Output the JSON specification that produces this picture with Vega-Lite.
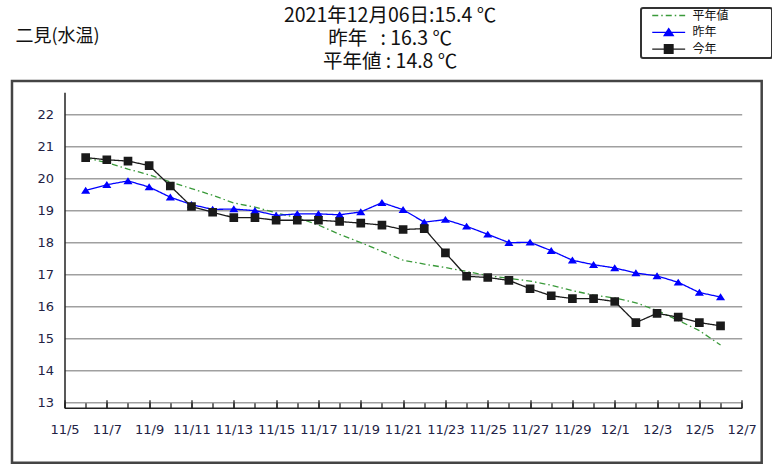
{
  "$schema": "https://vega.github.io/schema/vega-lite/v6.json",
  "width": 677.2,
  "height": 315.4,
  "autosize": {"type": "none"},
  "padding": {"left": 64.5, "top": 92.3, "right": 30.3, "bottom": 61.3},
  "background": "white",
  "config": {
    "view": {"stroke": null},
    "font": "DejaVu Sans",
    "axisY": {
      "values": [13, 14, 15, 16, 17, 18, 19, 20, 21, 22],
      "grid": true, "gridColor": "#a0a0a0", "gridWidth": 1.5,
      "ticks": false,
      "domain": true, "domainColor": "#222222", "domainWidth": 1.5,
      "labelFont": "DejaVu Sans", "labelFontSize": 13, "labelColor": "#222244", "labelPadding": 11,
      "titleAngle": 0, "titleX": -49.5, "titleY": -56,
      "titleAlign": "left", "titleBaseline": "middle",
      "titleFont": "Noto Sans CJK JP", "titleFontSize": 18, "titleFontWeight": "normal", "titleColor": "#111111"
    },
    "legend": {
      "orient": "none",
      "legendX": 576.5,
      "legendY": -84.3,
      "strokeColor": "#333333",
      "strokeWidth": 2,
      "cornerRadius": 2,
      "fillColor": "white",
      "padding": 1.5,
      "symbolSize": 75,
      "symbolOffset": 20.2,
      "labelOffset": 17.7,
      "rowPadding": 3.8,
      "labelFont": "Noto Sans CJK JP",
      "labelFontSize": 12,
      "labelColor": "#111111"
    }
  },
  "title": {
    "text": ["2021年12月06日:15.4 ℃", "昨年\u00a0\u00a0\u00a0: 16.3 ℃", "平年値 : 14.8 ℃"],
    "anchor": "middle",
    "frame": "group",
    "font": "Noto Sans CJK JP",
    "fontSize": 19.5,
    "fontWeight": "normal",
    "color": "#111111",
    "lineHeight": 23,
    "dx": -13,
    "dy": 69.5
  },
  "data": {
    "values": [
      {"date": "2021/11/06", "平年値": 20.65, "昨年": 19.63, "今年": 20.66},
      {"date": "2021/11/07", "平年値": 20.5, "昨年": 19.81, "今年": 20.59},
      {"date": "2021/11/08", "平年値": 20.3, "昨年": 19.93, "今年": 20.55},
      {"date": "2021/11/09", "平年値": 20.12, "昨年": 19.74, "今年": 20.41},
      {"date": "2021/11/10", "平年値": 19.9, "昨年": 19.42, "今年": 19.77},
      {"date": "2021/11/11", "平年値": 19.69, "昨年": 19.19, "今年": 19.13},
      {"date": "2021/11/12", "平年値": 19.48, "昨年": 19.04, "今年": 18.95},
      {"date": "2021/11/13", "平年値": 19.24, "昨年": 19.05, "今年": 18.78},
      {"date": "2021/11/14", "平年値": 19.11, "昨年": 19.0, "今年": 18.78},
      {"date": "2021/11/15", "平年値": 18.93, "昨年": 18.85, "今年": 18.7},
      {"date": "2021/11/16", "平年値": 18.78, "昨年": 18.9, "今年": 18.7},
      {"date": "2021/11/17", "平年値": 18.55, "昨年": 18.9, "今年": 18.7},
      {"date": "2021/11/18", "平年値": 18.26, "昨年": 18.87, "今年": 18.66},
      {"date": "2021/11/19", "平年値": 18.0, "昨年": 18.96, "今年": 18.61},
      {"date": "2021/11/20", "平年値": 17.73, "昨年": 19.25, "今年": 18.55},
      {"date": "2021/11/21", "平年値": 17.45, "昨年": 19.03, "今年": 18.41},
      {"date": "2021/11/22", "平年値": 17.33, "昨年": 18.64, "今年": 18.44},
      {"date": "2021/11/23", "平年値": 17.22, "昨年": 18.72, "今年": 17.68},
      {"date": "2021/11/24", "平年値": 17.1, "昨年": 18.51, "今年": 16.95},
      {"date": "2021/11/25", "平年値": 16.97, "昨年": 18.26, "今年": 16.91},
      {"date": "2021/11/26", "平年値": 16.88, "昨年": 18.0, "今年": 16.82},
      {"date": "2021/11/27", "平年値": 16.8, "昨年": 18.01, "今年": 16.56},
      {"date": "2021/11/28", "平年値": 16.67, "昨年": 17.75, "今年": 16.34},
      {"date": "2021/11/29", "平年値": 16.5, "昨年": 17.45, "今年": 16.25},
      {"date": "2021/11/30", "平年値": 16.36, "昨年": 17.31, "今年": 16.25},
      {"date": "2021/12/01", "平年値": 16.27, "昨年": 17.21, "今年": 16.16},
      {"date": "2021/12/02", "平年値": 16.12, "昨年": 17.05, "今年": 15.5},
      {"date": "2021/12/03", "平年値": 15.88, "昨年": 16.96, "今年": 15.79},
      {"date": "2021/12/04", "平年値": 15.57, "昨年": 16.76, "今年": 15.67},
      {"date": "2021/12/05", "平年値": 15.25, "昨年": 16.44, "今年": 15.5},
      {"date": "2021/12/06", "平年値": 14.8, "昨年": 16.3, "今年": 15.4}
    ]
  },
  "layer": [
    {
      "data": {"values": [{}]},
      "mark": {"type": "rect", "filled": false, "stroke": "#444444", "strokeWidth": 2.5, "clip": false},
      "encoding": {
        "x": {"datum": {"year": 2021, "month": 11, "date": 2, "hours": 12, "minutes": 27}, "type": "temporal", "axis": null},
        "x2": {"datum": {"year": 2021, "month": 12, "date": 7, "hours": 22, "minutes": 41}},
        "y": {"datum": 23.05, "type": "quantitative", "axis": {"title": "二見(水温)"}},
        "y2": {"datum": 11.12}
      }
    },
    {
      "transform": [{"fold": ["平年値", "昨年", "今年"], "as": ["series", "value"]}],
      "mark": {"type": "line", "strokeWidth": 1.3},
      "encoding": {
        "x": {
          "field": "date", "type": "temporal",
          "scale": {"domain": [{"year": 2021, "month": 11, "date": 5}, {"year": 2021, "month": 12, "date": 7}], "nice": false},
          "axis": {
            "orient": "bottom", "title": null, "grid": false,
            "tickCount": {"interval": "day", "step": 2},
            "format": "%-m/%-d",
            "tickSize": -8, "tickColor": "#222222", "tickWidth": 1.3,
            "domainColor": "#222222", "domainWidth": 1.5,
            "labelFont": "DejaVu Sans", "labelFontSize": 13, "labelColor": "#222244",
            "labelPadding": 24, "labelFlush": false, "labelOverlap": false
          }
        },
        "y": {
          "field": "value", "type": "quantitative",
          "scale": {"domain": [12.84, 22.7], "nice": false, "zero": false},
          "axis": {"title": "二見(水温)"}
        },
        "color": {
          "field": "series", "type": "nominal",
          "scale": {"domain": ["平年値", "昨年", "今年"], "range": ["#3a9a3a", "#0000ff", "#1a1a1a"]},
          "legend": {
            "title": null,
            "encode": {
              "symbols": {
                "update": {
                  "stroke": {"scale": "color", "field": "value"},
                  "fill": {"scale": "color", "field": "value"},
                  "strokeWidth": {"value": 1.3},
                  "opacity": {"value": 1},
                  "shape": {"scale": "shape", "field": "value"},
                  "strokeDash": {"signal": "datum.value === '平年値' ? [4, 6] : [1, 0]"}
                }
              }
            }
          }
        },
        "strokeDash": {
          "field": "series", "type": "nominal",
          "scale": {"domain": ["平年値", "昨年", "今年"], "range": [[6, 3, 1.5, 3], [1, 0], [1, 0]]},
          "legend": null
        }
      }
    },
    {
      "transform": [
        {"fold": ["平年値", "昨年", "今年"], "as": ["series", "value"]},
        {"filter": "datum.series !== '平年値'"}
      ],
      "mark": {"type": "point", "filled": true, "size": 75, "opacity": 1, "strokeWidth": 0},
      "encoding": {
        "x": {
          "field": "date", "type": "temporal",
          "scale": {"domain": [{"year": 2021, "month": 11, "date": 5}, {"year": 2021, "month": 12, "date": 7}], "nice": false},
          "axis": {
            "orient": "bottom", "title": null, "grid": false, "domain": false, "labels": false,
            "tickCount": {"interval": "day", "step": 1},
            "tickSize": -5, "tickColor": "#222222", "tickWidth": 1.3
          }
        },
        "y": {"field": "value", "type": "quantitative", "axis": {"title": "二見(水温)"}},
        "color": {"field": "series", "type": "nominal", "legend": {"title": null}},
        "shape": {
          "field": "series", "type": "nominal",
          "scale": {
            "domain": ["平年値", "昨年", "今年"],
            "range": ["M-3.8,0H3.8M22.7,0", "M-3.8,0H3.8M0,-0.85L1.05,0.75H-1.05ZM22.7,0", "M-3.8,0H3.8M-1,-1H1V1H-1ZM22.7,0"]
          },
          "legend": {"title": null}
        }
      }
    }
  ],
  "resolve": {"axis": {"x": "independent"}}
}
